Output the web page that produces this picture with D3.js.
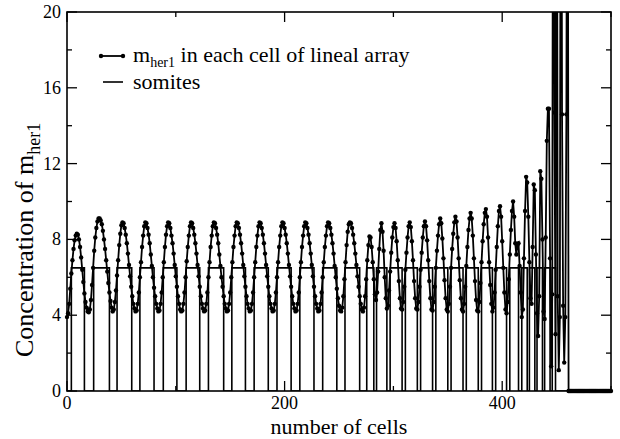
<!DOCTYPE html>
<html>
<head>
<meta charset="utf-8">
<script src="https://cdn.jsdelivr.net/npm/d3@7/dist/d3.min.js"></script>
<style>
body { margin: 0; background: #fff; }
text { font-family: "Liberation Serif", "Times New Roman", serif; fill: #000; }
</style>
</head>
<body>
<script>
// m_her1 value in each cell, index = cell number (0..500)
var her1 = [
 3.9, 4.1, 4.6, 5.4, 6.2, 6.9, 7.5, 7.95, 8.2, 8.3,
 8.25, 8.0, 7.6, 7.05, 6.4, 5.75, 5.15, 4.7, 4.4, 4.2,
 4.15, 4.3, 4.8, 5.6, 6.5, 7.4, 8.1, 8.6, 8.95, 9.1,
 9.1, 9.0, 8.8, 8.45, 8.0, 7.5, 6.9, 6.3, 5.7, 5.2,
 4.75, 4.4, 4.2, 4.3, 4.7, 5.3, 6.1, 6.9, 7.7, 8.3,
 8.75, 8.9, 8.85, 8.6, 8.25, 7.8, 7.25, 6.65, 6.05, 5.5,
 5.0, 4.6, 4.35, 4.2, 4.25, 4.6, 5.2, 6.0, 6.8, 7.6,
 8.2, 8.7, 8.9, 8.85, 8.6, 8.25, 7.8, 7.2, 6.6, 6.0,
 5.45, 5.0, 4.6, 4.35, 4.2, 4.25, 4.6, 5.2, 6.0, 6.8,
 7.6, 8.25, 8.7, 8.9, 8.85, 8.6, 8.2, 7.8, 7.25, 6.65,
 6.05, 5.5, 5.0, 4.6, 4.3, 4.2, 4.25, 4.6, 5.2, 6.0,
 6.85, 7.6, 8.2, 8.7, 8.9, 8.85, 8.6, 8.25, 7.8, 7.25,
 6.65, 6.05, 5.5, 5.0, 4.6, 4.35, 4.2, 4.25, 4.6, 5.2,
 6.0, 6.8, 7.6, 8.2, 8.7, 8.9, 8.85, 8.6, 8.25, 7.8,
 7.2, 6.6, 6.0, 5.5, 5.0, 4.6, 4.35, 4.2, 4.25, 4.6,
 5.2, 6.0, 6.8, 7.6, 8.2, 8.7, 8.9, 8.85, 8.6, 8.25,
 7.8, 7.25, 6.65, 6.05, 5.5, 5.0, 4.6, 4.35, 4.2, 4.25,
 4.6, 5.2, 6.0, 6.8, 7.6, 8.2, 8.7, 8.9, 8.85, 8.6,
 8.25, 7.8, 7.25, 6.65, 6.05, 5.5, 5.0, 4.6, 4.35, 4.2,
 4.25, 4.6, 5.2, 6.0, 6.8, 7.6, 8.2, 8.7, 8.9, 8.85,
 8.6, 8.25, 7.8, 7.25, 6.65, 6.05, 5.5, 5.0, 4.6, 4.35,
 4.2, 4.25, 4.6, 5.2, 6.0, 6.8, 7.6, 8.2, 8.7, 8.9,
 8.85, 8.6, 8.25, 7.8, 7.25, 6.65, 6.05, 5.5, 5.0, 4.6,
 4.35, 4.2, 4.25, 4.6, 5.2, 6.0, 6.8, 7.6, 8.2, 8.7,
 8.9, 8.85, 8.6, 8.25, 7.8, 7.25, 6.6, 6.0, 5.4, 4.9,
 4.5, 4.25, 4.2, 4.4, 5.0, 5.9, 6.8, 7.7, 8.4, 8.8,
 8.9, 8.85, 8.6, 8.25, 7.8, 7.25, 6.65, 6.05, 5.5, 5.0,
 4.6, 4.3, 4.2, 4.4, 5.0, 5.9, 6.9, 7.7, 8.15, 8.1,
 7.6, 6.8, 5.9, 5.1, 4.8, 5.2, 6.3, 7.5, 8.5, 8.85,
 8.4, 7.4, 6.0, 4.9, 4.35, 4.5, 5.3, 6.3, 7.3, 8.1,
 8.65, 8.85, 8.6, 7.9, 6.9, 5.8, 4.9, 4.35, 4.3, 4.7,
 5.5, 6.4, 7.3, 8.1, 8.7, 8.9, 8.65, 7.9, 6.9, 5.8,
 4.9, 4.35, 4.3, 4.7, 5.5, 6.4, 7.3, 8.1, 8.7, 8.95,
 8.7, 7.95, 6.9, 5.8, 4.9, 4.3, 4.25, 4.7, 5.5, 6.5,
 7.4, 8.2, 8.8, 9.1, 8.85, 8.05, 7.0, 5.85, 4.9, 4.3,
 4.2, 4.6, 5.5, 6.5, 7.5, 8.3, 8.9, 9.2, 8.95, 8.1,
 7.0, 5.85, 4.9, 4.3, 4.2, 4.6, 5.5, 6.6, 7.6, 8.5,
 9.1, 9.4, 9.1, 8.2, 7.0, 5.8, 4.8, 4.25, 4.2, 4.7,
 5.7, 6.8, 7.9, 8.8, 9.4, 9.6, 9.2, 8.1, 6.8, 5.6,
 4.6, 4.2, 4.4, 5.2, 6.4, 7.6, 8.7, 9.5, 9.75, 9.2,
 7.9, 6.5, 5.2, 4.3, 4.1, 4.7, 5.9, 7.2, 8.5, 9.5,
 10.0, 9.2, 7.8, 7.2, 7.7, 7.8, 6.6, 5.2, 3.9, 4.3,
 7.0, 9.5, 11.3, 11.0, 9.2, 6.8, 4.9, 4.6, 7.6, 10.9,
 10.6, 7.2, 4.1, 2.9, 5.0, 11.6, 11.2, 8.0, 4.2, 3.8,
 8.1, 13.2, 14.9, 14.9, 7.0, 1.3, 5.1, 45, 14.7, 3.0,
 45, 5.0, 1.1, 3.9, 45, 14.6, 4.5, 1.5, 3.9, 14.6,
 45, 0, 0, 0, 0, 0, 0, 0, 0, 0,
 0, 0, 0, 0, 0, 0, 0, 0, 0, 0,
 0, 0, 0, 0, 0, 0, 0, 0, 0, 0,
 0, 0, 0, 0, 0, 0, 0, 0, 0, 0,
 0
];

// somites: cells where the step rises to the somite level, and where it drops back
var somiteOn  = [4, 24.5, 46, 67, 88.5, 109.5, 130, 151.5, 172, 193, 214, 235, 255.5,
                 275.5, 284.5, 297, 311, 325, 339, 353, 367, 381, 394, 407, 418, 425, 432, 439, 446];
var somiteOff = [16, 39, 59.5, 80, 101, 122, 144, 164, 185, 206, 227, 248, 269,
                 282, 294, 308, 322, 336, 350, 364, 378, 391, 404, 415, 423, 430, 437, 444, 449];
var somiteLevel = 6.5;
var xEnd = 500;

var xMajor = [0, 200, 400];
var xMinor = [100, 300, 500];
var yMajor = [0, 4, 8, 12, 16, 20];
var yMinor = [2, 6, 10, 14, 18];

var W = 620, H = 439;
var pL = 67, pR = 611, pT = 12, pB = 391;

var svg = d3.select("body").append("svg")
  .attr("width", W)
  .attr("height", H);

var x = d3.scaleLinear().domain([0, 500]).range([pL, pR]);
var y = d3.scaleLinear().domain([0, 20]).range([pB, pT]);

svg.append("clipPath").attr("id", "plot")
  .append("rect")
  .attr("x", pL).attr("y", pT)
  .attr("width", pR - pL).attr("height", pB - pT);

var g = svg.append("g").attr("clip-path", "url(#plot)");

// somite step line
var steps = [[0, 0]];
somiteOn.forEach(function(s, i) {
  steps.push([s, 0], [s, somiteLevel], [somiteOff[i], somiteLevel], [somiteOff[i], 0]);
});
steps.push([xEnd, 0]);

var line = d3.line()
  .x(function(d) { return x(d[0]); })
  .y(function(d) { return y(d[1]); });

g.append("path")
  .attr("d", line(steps))
  .attr("fill", "none")
  .attr("stroke", "#000")
  .attr("stroke-width", 1.6);

// her1 series
var pts = her1.map(function(v, i) { return [i, v]; });

g.append("path")
  .attr("d", line(pts))
  .attr("fill", "none")
  .attr("stroke", "#000")
  .attr("stroke-width", 1.8);

svg.append("g").selectAll("circle")
  .data(pts.filter(function(d) { return d[1] <= 20; }))
  .enter().append("circle")
  .attr("cx", function(d) { return x(d[0]); })
  .attr("cy", function(d) { return y(d[1]); })
  .attr("r", 2.2)
  .attr("fill", "#000");

// frame
svg.append("rect")
  .attr("x", pL).attr("y", pT)
  .attr("width", pR - pL).attr("height", pB - pT)
  .attr("fill", "none")
  .attr("stroke", "#000")
  .attr("stroke-width", 1.6);

// ticks (inward, all four sides)
var tk = svg.append("g").attr("stroke", "#000").attr("stroke-width", 1.3);
function xTick(v, len) {
  tk.append("line").attr("x1", x(v)).attr("x2", x(v)).attr("y1", pB).attr("y2", pB - len);
  tk.append("line").attr("x1", x(v)).attr("x2", x(v)).attr("y1", pT).attr("y2", pT + len);
}
function yTick(v, len) {
  tk.append("line").attr("y1", y(v)).attr("y2", y(v)).attr("x1", pL).attr("x2", pL + len);
  tk.append("line").attr("y1", y(v)).attr("y2", y(v)).attr("x1", pR).attr("x2", pR - len);
}
xMajor.forEach(function(v) { xTick(v, 10); });
xMinor.forEach(function(v) { xTick(v, 5); });
yMajor.forEach(function(v) { yTick(v, 10); });
yMinor.forEach(function(v) { yTick(v, 5); });

// tick labels
svg.append("g").selectAll("text")
  .data(xMajor).enter().append("text")
  .attr("x", function(d) { return x(d); })
  .attr("y", pB + 18)
  .attr("text-anchor", "middle")
  .attr("font-size", 18)
  .text(function(d) { return d; });

svg.append("g").selectAll("text")
  .data(yMajor).enter().append("text")
  .attr("x", pL - 6)
  .attr("y", function(d) { return y(d) + 6; })
  .attr("text-anchor", "end")
  .attr("font-size", 18)
  .text(function(d) { return d; });

// axis titles
svg.append("text")
  .attr("x", (pL + pR) / 2)
  .attr("y", 434)
  .attr("text-anchor", "middle")
  .attr("font-size", 22)
  .text("number of cells");

var yt = svg.append("text")
  .attr("transform", "translate(33,357) rotate(-90)")
  .attr("font-size", 26);
yt.append("tspan").text("Concentration of m");
yt.append("tspan").attr("font-size", 18).attr("dy", 7).text("her1");

// legend
var legend = svg.append("g");
legend.append("line")
  .attr("x1", 101).attr("x2", 123).attr("y1", 56).attr("y2", 56)
  .attr("stroke", "#000").attr("stroke-width", 1.8);
legend.selectAll("circle").data([101, 123]).enter().append("circle")
  .attr("cx", function(d) { return d; }).attr("cy", 56).attr("r", 2.2);
var t1 = legend.append("text").attr("x", 133).attr("y", 62).attr("font-size", 22);
t1.append("tspan").text("m");
t1.append("tspan").attr("font-size", 14).attr("dy", 5).text("her1");
t1.append("tspan").attr("dy", -5).text(" in each cell of lineal array");

legend.append("line")
  .attr("x1", 103).attr("x2", 123).attr("y1", 82).attr("y2", 82)
  .attr("stroke", "#000").attr("stroke-width", 1.6);
legend.append("text").attr("x", 133).attr("y", 89).attr("font-size", 22).text("somites");
</script>
</body>
</html>
